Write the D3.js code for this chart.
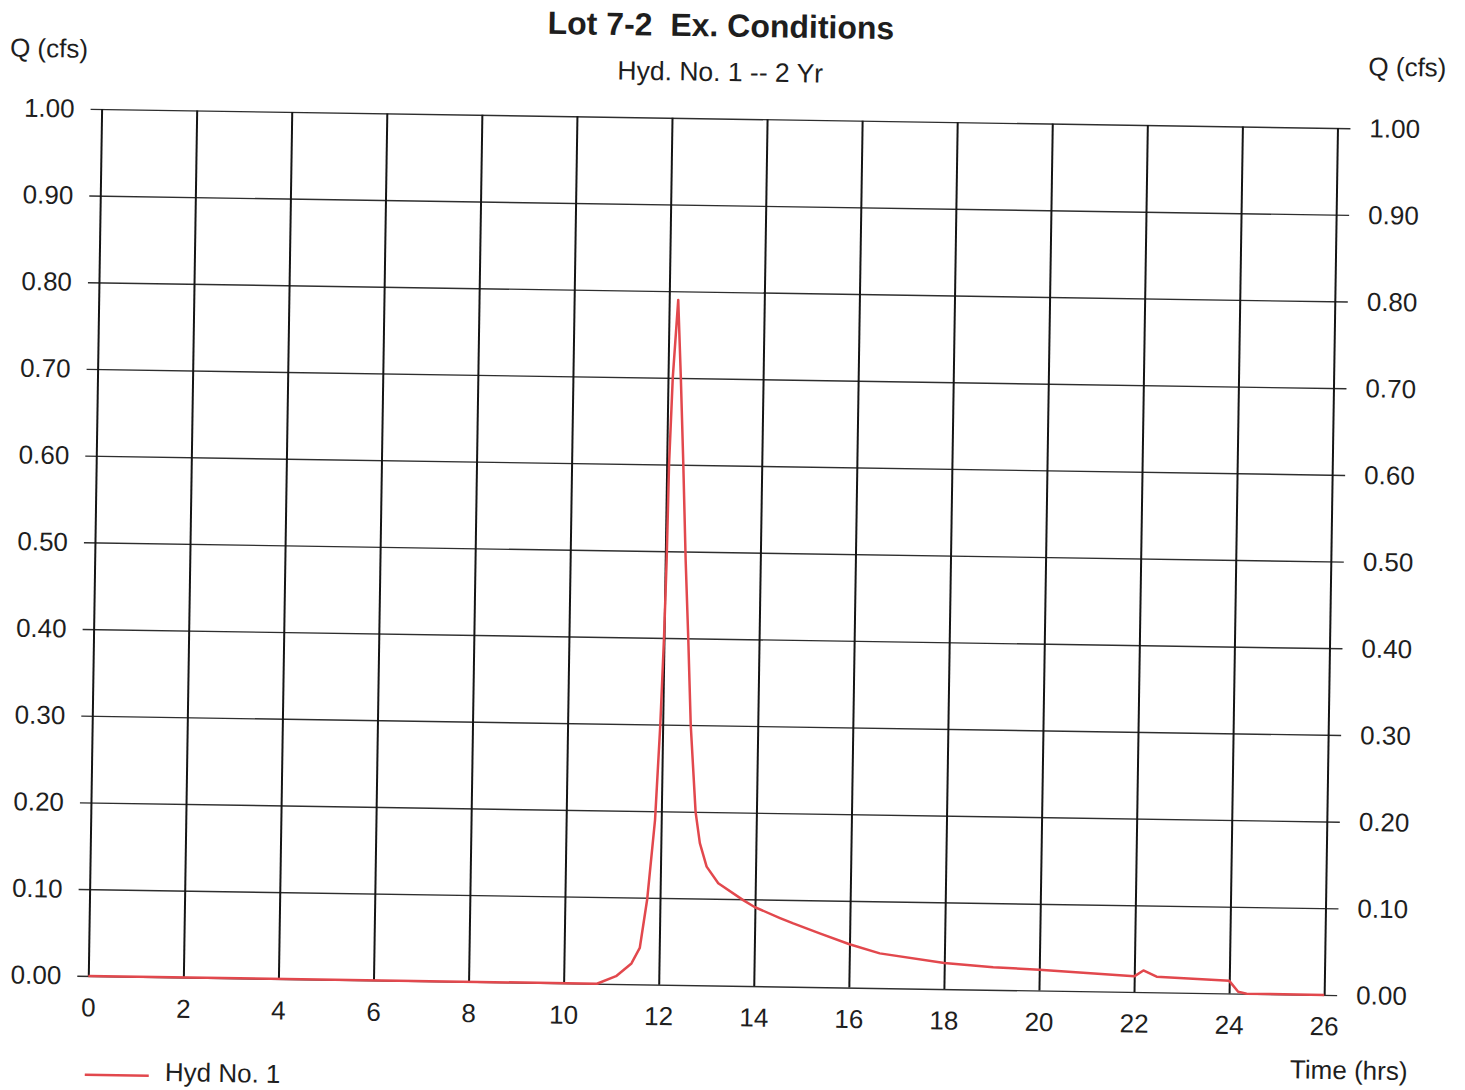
<!DOCTYPE html>
<html>
<head>
<meta charset="utf-8">
<script src="https://cdn.jsdelivr.net/npm/d3@7"></script>
<style>
  body { margin: 0; background: #fff; }
  text { font-family: "Liberation Sans", Arial, sans-serif; fill: #1e1e1e; }
</style>
</head>
<body>
<div id="chart"></div>
<script>
// Hydrograph for Hyd. No. 1, time in hours and flow in cfs
var hours = [0, 10.7, 11.1, 11.42, 11.59, 11.73, 11.87, 11.95, 12.0, 12.03, 12.05, 12.1, 12.19,
  12.27, 12.35, 12.43, 12.51, 12.59, 12.72, 12.82, 12.97, 13.22, 13.75, 14.0, 14.53, 14.81,
  15.37, 16.0, 16.64, 18.0, 19.03, 20.0, 21.0, 22.0, 22.19, 22.47, 24.0, 24.19, 24.37, 26.0];
var flow = [0, 0, 0.009, 0.024, 0.042, 0.098, 0.19, 0.30, 0.40, 0.49, 0.60, 0.70, 0.79,
  0.70, 0.60, 0.49, 0.40, 0.30, 0.20, 0.164, 0.137, 0.118, 0.099, 0.091, 0.079, 0.073,
  0.062, 0.050, 0.040, 0.030, 0.026, 0.024, 0.021, 0.018, 0.025, 0.018, 0.0145, 0.002, 0, 0];

var xTicks = [0, 2, 4, 6, 8, 10, 12, 14, 16, 18, 20, 22, 24, 26];
var yTicks = [0.0, 0.1, 0.2, 0.3, 0.4, 0.5, 0.6, 0.7, 0.8, 0.9, 1.0];

var title = "Lot 7-2  Ex. Conditions";
var subtitle = "Hyd. No. 1 -- 2 Yr";
var seriesName = "Hyd No. 1";

var svgWidth = 1465;
var svgHeight = 1090;
var margin = { top: 108.9, left: 88.3 };
var width = 1236;
var height = 867;

var svg = d3.select("#chart")
  .append("svg")
  .attr("width", svgWidth)
  .attr("height", svgHeight);

// the sheet sits a little skewed on the page
var chartGroup = svg.append("g")
  .attr("transform", `rotate(0.88, ${margin.left}, ${margin.top + height}) translate(${margin.left}, ${margin.top})`);

var xScale = d3.scaleLinear().domain([0, 26]).range([0, width]);
var yScale = d3.scaleLinear().domain([0, 1]).range([height, 0]);

// horizontal grid + left labels
var leftAxis = chartGroup.append("g")
  .attr("transform", "translate(-11, 0)")
  .call(d3.axisLeft(yScale)
    .tickValues(yTicks)
    .tickFormat(d3.format(".2f"))
    .tickSize(-(width + 24))
    .tickPadding(16));
leftAxis.select(".domain").remove();
leftAxis.selectAll("line").attr("stroke", "#2e2e2e").attr("stroke-width", 1.4);

// right labels
var rightAxis = chartGroup.append("g")
  .attr("transform", `translate(${width + 13}, 0)`)
  .call(d3.axisRight(yScale)
    .tickValues(yTicks)
    .tickFormat(d3.format(".2f"))
    .tickSize(0)
    .tickPadding(19));
rightAxis.select(".domain").remove();

// vertical grid + bottom labels
var bottomAxis = chartGroup.append("g")
  .attr("transform", `translate(0, ${height})`)
  .call(d3.axisBottom(xScale)
    .tickValues(xTicks)
    .tickSize(-height)
    .tickPadding(22));
bottomAxis.select(".domain").remove();
bottomAxis.selectAll("line").attr("stroke", "#151515").attr("stroke-width", 2);

chartGroup.selectAll(".tick text")
  .attr("font-size", 26)
  .attr("fill", "#1e1e1e");

// hydrograph line
var line = d3.line()
  .x((d, i) => xScale(hours[i]))
  .y(d => yScale(d));

chartGroup.append("path")
  .datum(flow)
  .attr("d", line)
  .attr("fill", "none")
  .attr("stroke", "#e2484d")
  .attr("stroke-width", 2.5)
  .attr("stroke-linejoin", "round");

// titles
chartGroup.append("text")
  .attr("x", width / 2)
  .attr("y", -82)
  .attr("text-anchor", "middle")
  .attr("font-size", 32)
  .attr("font-weight", "bold")
  .style("white-space", "pre")
  .text(title);

chartGroup.append("text")
  .attr("x", width / 2)
  .attr("y", -37.5)
  .attr("text-anchor", "middle")
  .attr("font-size", 26.5)
  .text(subtitle);

// axis titles
chartGroup.append("text")
  .attr("x", -92.5)
  .attr("y", -51)
  .attr("font-size", 26)
  .text("Q (cfs)");

chartGroup.append("text")
  .attr("x", width + 30)
  .attr("y", -53)
  .attr("font-size", 26)
  .text("Q (cfs)");

chartGroup.append("text")
  .attr("x", 1203)
  .attr("y", height + 84)
  .attr("font-size", 26)
  .text("Time (hrs)");

// legend
chartGroup.append("line")
  .attr("x1", -2)
  .attr("x2", 62)
  .attr("y1", height + 99)
  .attr("y2", height + 99)
  .attr("stroke", "#e2484d")
  .attr("stroke-width", 2.5);

chartGroup.append("text")
  .attr("x", 78)
  .attr("y", height + 104)
  .attr("font-size", 26)
  .text(seriesName);
</script>
</body>
</html>
